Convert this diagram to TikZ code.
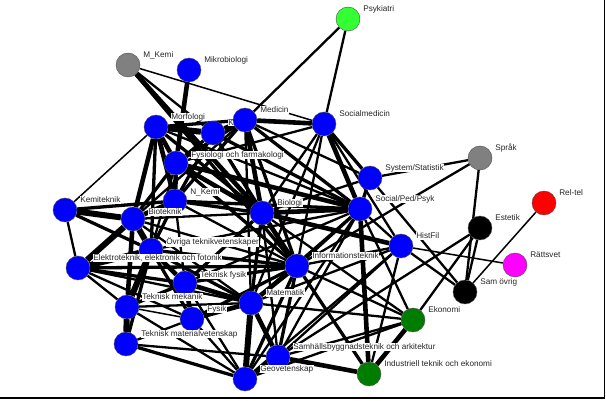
\documentclass[tikz,border=0pt]{standalone}
\usepackage{fontspec}
\setmainfont{Liberation Sans}
\usetikzlibrary{calc}
\pgfdeclarelayer{edges}\pgfdeclarelayer{labels}
\pgfsetlayers{edges,labels,main}
\definecolor{vblue}{RGB}{0,0,255}
\definecolor{vlime}{RGB}{51,255,51}
\definecolor{vgreen}{RGB}{0,125,0}
\definecolor{vgray}{RGB}{128,128,128}
\definecolor{vred}{RGB}{255,0,0}
\definecolor{vmag}{RGB}{255,0,255}

\begin{document}
\begin{tikzpicture}[x=1pt, y=-1pt, every node/.style={font=\fontsize{8.2}{9}\selectfont},
	v/.style={draw=black!70, circle, fill=vblue, minimum size=24pt, inner sep=0pt},
	lab/.style={fill=white, inner sep=0.6pt, anchor=west, text=black!85},
	w1/.style={line width=1.5pt}, w2/.style={line width=2.3pt}, w3/.style={line width=3.3pt}, w4/.style={line width=4.6pt}, w5/.style={line width=6pt}]
	\useasboundingbox (0,0) rectangle (606,401);
	\draw[line width=1.6pt] (0,398) -- (604.5,398) -- (604.5,0);
	% nodes
	\node[v, fill=vlime] (psy) at (348,19) {}; \node[v, fill=vgray] (mkemi) at (128,65) {}; \node[v] (mikro) at (189,70) {};
	\node[v] (morf) at (156,127) {}; \node[v] (kemi) at (213,133) {}; \node[v] (med) at (245,120) {}; \node[v] (socmed) at (324,124) {};
	\node[v] (fysfarm) at (176,163) {}; \node[v] (nkemi) at (175,201) {}; \node[v] (kemtek) at (65,210) {}; \node[v] (biotek) at (133,219) {};
	\node[v] (bio) at (262,213) {}; \node[v] (ovr) at (151,250) {}; \node[v] (elek) at (78,268) {}; \node[v] (tfys) at (185,283) {};
	\node[v] (info) at (297,266) {}; \node[v] (tmek) at (127,307) {}; \node[v] (mat) at (251,303) {}; \node[v] (fysik) at (192,319) {};
	\node[v] (tmat) at (126,344) {}; \node[v] (geo) at (245,379) {}; \node[v] (samh) at (278,357) {};
	\node[v] (sys) at (370,178) {}; \node[v] (socped) at (360,209) {}; \node[v] (hist) at (401,246) {};
	\node[v, fill=vgray] (sprak) at (480,158) {}; \node[v, fill=vred] (reltel) at (544,203) {}; \node[v, fill=black] (estetik) at (480,228) {};
	\node[v, fill=vmag] (ratt) at (515,265) {}; \node[v, fill=black] (samovr) at (465,292) {};
	\node[v, fill=vgreen] (ekon) at (413,320) {}; \node[v, fill=vgreen] (indek) at (369,374) {};
	% labels
	\begin{pgfonlayer}{labels}
	\node[lab] (kemi-t) at ($(kemi)+(14.5,-10)$) {K};
	\end{pgfonlayer}
	\node[lab] (psy-t) at ($(psy)+(14.5,-10)$) {Psykiatri}; \node[lab] (mkemi-t) at ($(mkemi)+(14.5,-10)$) {M\_Kemi};
	\node[lab] (mikro-t) at ($(mikro)+(14.5,-10)$) {Mikrobiologi}; \node[lab] (morf-t) at ($(morf)+(14.5,-10)$) {Morfologi};
	\node[lab] (med-t) at ($(med)+(14.5,-10)$) {Medicin};
	\node[lab] (socmed-t) at ($(socmed)+(14.5,-10)$) {Socialmedicin}; \node[lab] (fysfarm-t) at ($(fysfarm)+(14.5,-8)$) {Fysiologi och farmakologi};
	\node[lab] (nkemi-t) at ($(nkemi)+(14.5,-9)$) {N\_Kemi}; \node[lab] (kemtek-t) at ($(kemtek)+(14.5,-10)$) {Kemiteknik};
	\node[lab] (biotek-t) at ($(biotek)+(14.5,-7)$) {Bioteknik}; \node[lab] (bio-t) at ($(bio)+(14.5,-10)$) {Biologi};
	\node[lab] (ovr-t) at ($(ovr)+(14.5,-8)$) {Övriga teknikvetenskaper}; \node[lab] (elek-t) at ($(elek)+(14.5,-10)$) {Elektroteknik, elektronik och fotonik};
	\node[lab] (tfys-t) at ($(tfys)+(14.5,-8)$) {Teknisk fysik}; \node[lab] (info-t) at ($(info)+(14.5,-10)$) {Informationsteknik};
	\node[lab] (tmek-t) at ($(tmek)+(14.5,-10)$) {Teknisk mekanik}; \node[lab] (mat-t) at ($(mat)+(14.5,-10)$) {Matematik};
	\node[lab] (fysik-t) at ($(fysik)+(14.5,-10)$) {Fysik}; \node[lab] (tmat-t) at ($(tmat)+(14.5,-10)$) {Teknisk materialvetenskap};
	\node[lab] (geo-t) at ($(geo)+(14.5,-10)$) {Geovetenskap}; \node[lab] (samh-t) at ($(samh)+(14.5,-10)$) {Samhällsbyggnadsteknik och arkitektur};
	\node[lab] (sys-t) at ($(sys)+(14.5,-10)$) {System/Statistik}; \node[lab] (socped-t) at ($(socped)+(14.5,-10)$) {Social/Ped/Psyk};
	\node[lab] (hist-t) at ($(hist)+(14.5,-10)$) {HistFil}; \node[lab] (sprak-t) at ($(sprak)+(14.5,-10)$) {Språk};
	\node[lab] (reltel-t) at ($(reltel)+(14.5,-10)$) {Rel-tel}; \node[lab] (estetik-t) at ($(estetik)+(14.5,-10)$) {Estetik};
	\node[lab] (ratt-t) at ($(ratt)+(14.5,-10)$) {Rättsvet}; \node[lab] (samovr-t) at ($(samovr)+(14.5,-10)$) {Sam övrig};
	\node[lab] (ekon-t) at ($(ekon)+(14.5,-10)$) {Ekonomi}; \node[lab] (indek-t) at ($(indek)+(14.5,-10)$) {Industriell teknik och ekonomi};
	% connectors
	\begin{pgfonlayer}{edges}
	\draw[w2] (psy) -- (med); \draw[w2] (psy) -- (socmed); \draw[w1] (mkemi) -- (socmed); \draw[w2] (mkemi) -- (kemi); \draw[w4] (mkemi) -- (bio); \draw[w3] (mkemi) -- (info);
	\draw[w4] (mikro) -- (fysfarm); \draw[w5] (morf) -- (kemi); \draw[w4] (kemi) -- (med); \draw[w4] (med) -- (socmed); \draw[w3] (morf) -- (med);
	\draw[w4] (morf) -- (fysfarm); \draw[w4] (morf) -- (nkemi); \draw[w4] (morf) -- (biotek); \draw[w1] (morf) -- (kemtek); \draw[w3] (morf) -- (ovr);
	\draw[w3] (morf) -- (bio); \draw[w2] (morf) -- (socped); \draw[w3] (kemi) -- (fysfarm); \draw[w3] (kemi) -- (bio); \draw[w3] (kemi) -- (nkemi);
	\draw[w3] (kemi) -- (socped); \draw[w2] (kemi) -- (info); \draw[w3] (med) -- (fysfarm); \draw[w3] (med) -- (nkemi); \draw[w4] (med) -- (bio);
	\draw[w3] (med) -- (info); \draw[w2] (med) -- (mat); \draw[w2] (med) -- (sys); \draw[w3] (med) -- (socped); \draw[w2] (med) -- (biotek);
	\draw[w3] (socmed) -- (sys); \draw[w4] (socmed) -- (socped); \draw[w2] (socmed) -- (hist); \draw[w2] (socmed) -- (info); \draw[w2] (socmed) -- (bio);
	\draw[w2] (socmed) -- (mat); \draw[w2] (socmed) -- (fysfarm);
	\draw[w4] (fysfarm) -- (nkemi); \draw[w4] (fysfarm) -- (bio); \draw[w4] (fysfarm) -- (socped); \draw[w3] (fysfarm) -- (biotek); \draw[w3] (fysfarm) -- (info);
	\draw[w2] (fysfarm) -- (ovr); \draw[w3] (nkemi) -- (bio); \draw[w4] (nkemi) -- (biotek); \draw[w3] (nkemi) -- (socped); \draw[w3] (nkemi) -- (kemtek);
	\draw[w3] (nkemi) -- (ovr); \draw[w2] (nkemi) -- (info); \draw[w2] (nkemi) -- (tfys); \draw[w5] (kemtek) -- (biotek); \draw[w2] (kemtek) -- (elek);
	\draw[w3] (kemtek) -- (ovr); \draw[w5] (biotek) -- (ovr); \draw[w5] (biotek) -- (elek); \draw[w4] (biotek) -- (tmek); \draw[w2] (biotek) -- (bio);
	\draw[w2] (biotek) -- (info); \draw[w2] (biotek) -- (mat); \draw[w4] (bio) -- (socped); \draw[w4] (bio) -- (hist); \draw[w2] (bio) -- (sys);
	\draw[w4] (bio) -- (info); \draw[w3] (bio) -- (mat); \draw[w3] (bio) -- (tfys); \draw[w2] (bio) -- (samh); \draw[w2] (bio) -- (ekon);
	\draw[w5] (ovr) -- (elek); \draw[w5] (ovr) -- (tmek); \draw[w4] (ovr) -- (tfys); \draw[w3] (ovr) -- (mat); \draw[w3] (ovr) -- (info);
	\draw[w3] (ovr) -- (fysik); \draw[w3] (ovr) -- (tmat); \draw[w2] (ovr) -- (socped); \draw[w2] (elek) -- (tmek); \draw[w3] (elek) -- (tfys);
	\draw[w3] (elek) -- (info); \draw[w2] (elek) -- (mat); \draw[w2] (elek) -- (fysik); \draw[w4] (tfys) -- (mat); \draw[w4] (tfys) -- (fysik);
	\draw[w3] (tfys) -- (info); \draw[w2] (tfys) -- (geo); \draw[w2] (tfys) -- (socped); \draw[w3] (tfys) -- (tmek); \draw[w5] (tmek) -- (tmat);
	\draw[w1] (tmek) -- (fysik); \draw[w2] (tmek) -- (geo); \draw[w2] (tmek) -- (mat); \draw[w3] (tmat) -- (geo); \draw[w2] (tmat) -- (samh);
	\draw[w2] (tmat) -- (fysik); \draw[w4] (fysik) -- (mat); \draw[w2] (fysik) -- (geo); \draw[w3] (fysik) -- (info); \draw[w5] (mat) -- (geo);
	\draw[w4] (mat) -- (samh); \draw[w4] (mat) -- (info); \draw[w2] (mat) -- (ekon); \draw[w2] (mat) -- (socped); \draw[w2] (mat) -- (hist);
	\draw[w3] (info) -- (geo); \draw[w3] (info) -- (samh); \draw[w3] (info) -- (socped); \draw[w2] (info) -- (sprak); \draw[w3] (info) -- (indek);
	\draw[w2] (info) -- (hist); \draw[w2] (info) -- (ekon); \draw[w4] (geo) -- (samh); \draw[w2] (geo) -- (ekon); \draw[w2] (geo) -- (hist);
	\draw[w2] (geo) -- (socped); \draw[w4] (samh) -- (indek); \draw[w2] (samh) -- (ekon); \draw[w2] (samh) -- (socped); \draw[w2] (samh) -- (hist);
	\draw[w4] (indek) -- (ekon); \draw[w4] (indek) -- (socped); \draw[w2] (indek) -- (hist); \draw[w2] (samh) -- (estetik);
	\draw[w2] (sys) -- (sprak); \draw[w3] (sys) -- (socped); \draw[w2] (sys) -- (samovr); \draw[w2] (socped) -- (hist); \draw[w2] (socped) -- (ekon);
	\draw[w2] (hist) -- (samovr); \draw[w1] (hist) -- (ratt); \draw[w2] (sprak) -- (samovr); \draw[w2] (estetik) -- (samovr); \draw[w2] (estetik) -- (ekon);
	\draw[w1] (reltel) -- (samovr);
	\end{pgfonlayer}
\end{tikzpicture}
\end{document}
